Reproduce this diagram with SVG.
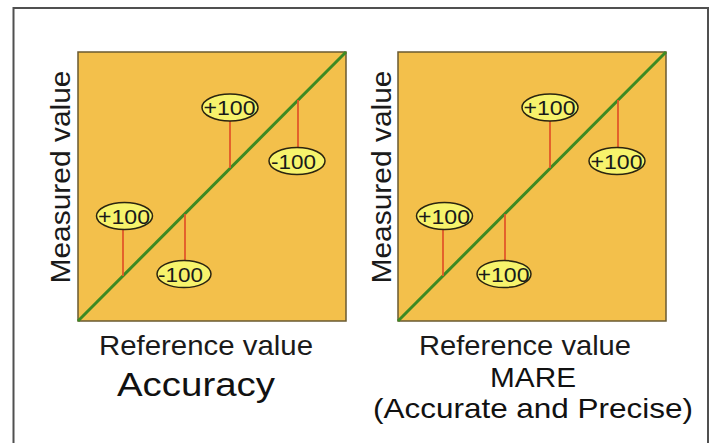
<svg xmlns="http://www.w3.org/2000/svg" width="712" height="443" viewBox="0 0 712 443">
<style>
.plot{fill:#f3c04b;stroke:#6a5a30;stroke-width:1.5}
.diag{stroke:#3d8a22;stroke-width:3;fill:none}
.tick{stroke:#e2572a;stroke-width:1.8;fill:none}
.lbl{fill:#f7f36c;stroke:#2a2410;stroke-width:1.5}
.lt{font-family:"Liberation Sans",Arial,sans-serif;font-size:20px;fill:#1a1a1a}
.ax{font-family:"Liberation Sans",Arial,sans-serif;font-size:28px;fill:#1a1a1a}
.ttl{font-family:"Liberation Sans",Arial,sans-serif;fill:#111}
</style>
<rect x="0" y="0" width="712" height="443" fill="#ffffff"/>
<path d="M13.5,443 V8 H708 V443" fill="none" stroke="#505050" stroke-width="2"/>

<g id="plot-accuracy">
<rect class="plot" x="78" y="52" width="268" height="269"/>
<text class="ax" x="70" y="177" text-anchor="middle" transform="rotate(-90 70 177)" textLength="213" lengthAdjust="spacingAndGlyphs">Measured value</text>
<text class="ax" x="206" y="355" text-anchor="middle" textLength="214" lengthAdjust="spacingAndGlyphs">Reference value</text>
<text class="ttl" x="196" y="396" font-size="34" text-anchor="middle" textLength="158" lengthAdjust="spacingAndGlyphs">Accuracy</text>
</g>

<g id="plot-mare">
<rect class="plot" x="398" y="52" width="268" height="269"/>
<text class="ax" x="391" y="177" text-anchor="middle" transform="rotate(-90 391 177)" textLength="213" lengthAdjust="spacingAndGlyphs">Measured value</text>
<text class="ax" x="525" y="355" text-anchor="middle" textLength="212" lengthAdjust="spacingAndGlyphs">Reference value</text>
<text class="ttl" x="533" y="387" font-size="28" text-anchor="middle" textLength="86" lengthAdjust="spacingAndGlyphs">MARE</text>
<text class="ttl" x="533" y="418" font-size="28" text-anchor="middle" textLength="320" lengthAdjust="spacingAndGlyphs">(Accurate and Precise)</text>
</g>

<g id="connectors">
<line class="diag" x1="78" y1="321" x2="346" y2="52"/>
<line class="tick" x1="230" y1="121" x2="230" y2="168"/>
<line class="tick" x1="298" y1="100" x2="298" y2="147"/>
<line class="tick" x1="123" y1="230" x2="123" y2="276"/>
<line class="tick" x1="185" y1="214" x2="185" y2="260"/>
<line class="diag" x1="398" y1="321" x2="666" y2="52"/>
<line class="tick" x1="550" y1="121" x2="550" y2="168"/>
<line class="tick" x1="618" y1="100" x2="618" y2="147"/>
<line class="tick" x1="443" y1="230" x2="443" y2="276"/>
<line class="tick" x1="505" y1="214" x2="505" y2="260"/>
</g>

<g id="a-top"><ellipse class="lbl" cx="230" cy="107.5" rx="28" ry="13.5"/><text class="lt" x="229.5" y="115" text-anchor="middle" textLength="52" lengthAdjust="spacingAndGlyphs">+100</text></g>
<g id="a-right"><ellipse class="lbl" cx="297" cy="161" rx="28" ry="13.5"/><text class="lt" x="293.5" y="168.5" text-anchor="middle" textLength="45" lengthAdjust="spacingAndGlyphs">-100</text></g>
<g id="a-left"><ellipse class="lbl" cx="124.5" cy="216" rx="28" ry="13.5"/><text class="lt" x="124" y="223.5" text-anchor="middle" textLength="52" lengthAdjust="spacingAndGlyphs">+100</text></g>
<g id="a-bottom"><ellipse class="lbl" cx="184" cy="274" rx="27" ry="13.5"/><text class="lt" x="180.5" y="281.5" text-anchor="middle" textLength="45" lengthAdjust="spacingAndGlyphs">-100</text></g>

<g id="m-top"><ellipse class="lbl" cx="550" cy="107.5" rx="28" ry="13.5"/><text class="lt" x="549.5" y="115" text-anchor="middle" textLength="52" lengthAdjust="spacingAndGlyphs">+100</text></g>
<g id="m-right"><ellipse class="lbl" cx="617" cy="161" rx="28" ry="13.5"/><text class="lt" x="616.5" y="168.5" text-anchor="middle" textLength="52" lengthAdjust="spacingAndGlyphs">+100</text></g>
<g id="m-left"><ellipse class="lbl" cx="444.5" cy="216" rx="28" ry="13.5"/><text class="lt" x="444" y="223.5" text-anchor="middle" textLength="52" lengthAdjust="spacingAndGlyphs">+100</text></g>
<g id="m-bottom"><ellipse class="lbl" cx="504" cy="274" rx="27" ry="13.5"/><text class="lt" x="503.5" y="281.5" text-anchor="middle" textLength="52" lengthAdjust="spacingAndGlyphs">+100</text></g>
</svg>
